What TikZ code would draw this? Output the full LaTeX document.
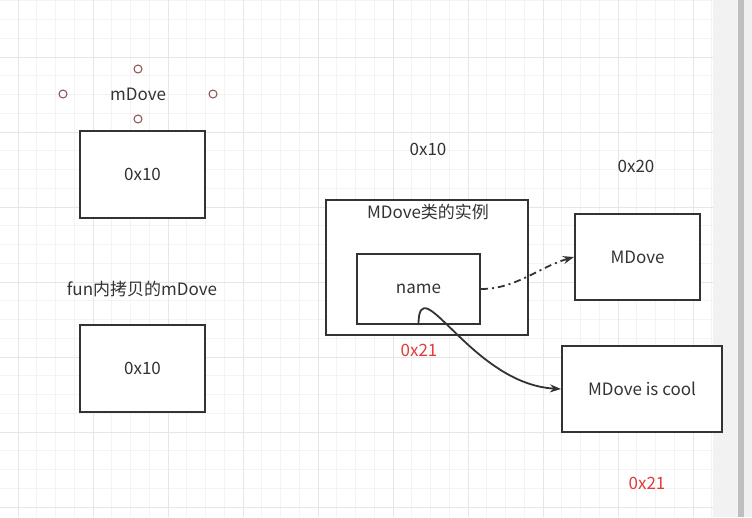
\documentclass[tikz,border=0pt]{standalone}
\usepackage{fontspec}
\setmainfont{Noto Sans CJK SC}
\usetikzlibrary{arrows.meta}

\definecolor{ink}{HTML}{333333}
\definecolor{addr}{HTML}{E23B3B}
\definecolor{handle}{HTML}{8E4B4B}
\definecolor{gridminor}{HTML}{F3F3F3}
\definecolor{gridmajor}{HTML}{E6E6E6}

\begin{document}
\begin{tikzpicture}[x=1pt, y=-1pt, semithick,
    box/.style={draw=ink, line width=2pt, fill=white, rectangle, inner sep=0pt},
    txt/.style={text=ink, font=\fontsize{17}{20}\selectfont, inner sep=0pt},
    redtxt/.style={text=addr, font=\fontsize{17}{20}\selectfont, inner sep=0pt},
    knob/.style={draw=handle, line width=1pt, circle, minimum size=8pt, inner sep=0pt},
    link/.style={draw=ink, line width=1.8pt, -{Stealth[length=11pt, width=8pt]}}]
  \useasboundingbox (0,0) rectangle (752,517);

  % canvas
  \fill[white] (0,0) rectangle (713,517);
  \foreach \k in {0,...,38}
    \draw[gridminor, line width=0.8pt] ({-0.75+18.75*\k},0) -- ++(0,517);
  \foreach \k in {0,...,28}
    \draw[gridminor, line width=0.8pt] (0,{0.75+18.75*\k}) -- ++(713,0);
  \foreach \k in {0,...,9}
    \draw[gridmajor, line width=0.8pt] ({18+75*\k},0) -- ++(0,517);
  \foreach \k in {0,...,6}
    \draw[gridmajor, line width=0.8pt] (0,{57+75*\k}) -- ++(713,0);
  \fill[white] (713,0) rectangle (752,517);
  \fill[gray!10] (713,0) rectangle (738,517);
  \fill[gray!50] (738,0) rectangle (744,517);
  \fill[gray!12] (744,0) rectangle (752,517);

  % left column
  \node[txt] (lblA) at (138,94) {mDove};
  \node[knob] (kN) at (138,69) {};
  \node[knob] (kS) at (138,119) {};
  \node[knob] (kW) at (63,94) {};
  \node[knob] (kE) at (213,94) {};
  \node[box, minimum width=125pt, minimum height=87pt] (ptrA) at (142.5,174.5) {};
  \node[txt] at (ptrA) {0x10};

  \node[txt] (lblB) at (142,289) {fun内拷贝的mDove};
  \node[box, minimum width=125pt, minimum height=87pt] (ptrB) at (142.5,368.5) {};
  \node[txt] at (ptrB) {0x10};

  % instance
  \node[txt] (adrInst) at (428,149) {0x10};
  \node[box, minimum width=202pt, minimum height=135pt] (inst) at (427,267.5) {};
  \node[txt] (lblInst) at (428,212) {MDove类的实例};
  \node[box, minimum width=123pt, minimum height=70pt] (name) at (418.5,289) {};
  \node[txt] at (name) {name};
  \node[redtxt] (adrName) at (419,350) {0x21};

  % right column
  \node[txt] (adrMDove) at (636,166) {0x20};
  \node[box, minimum width=125pt, minimum height=86pt] (mdove) at (637.5,257) {};
  \node[txt] at (mdove) {MDove};
  \node[box, minimum width=160pt, minimum height=86pt] (cool) at (642,389) {};
  \node[txt] at (cool) {MDove is cool};
  \node[redtxt] (adrCool) at (647,483) {0x21};

  \draw[link, dash pattern=on 7pt off 4pt on 2pt off 4pt]
    (name.east) .. controls +(35,0) and +(-35,10) .. (mdove.west);
  \draw[link] (name.south) .. controls +(0,-60) and +(-90,-5) .. (cool.west);
\end{tikzpicture}
\end{document}
